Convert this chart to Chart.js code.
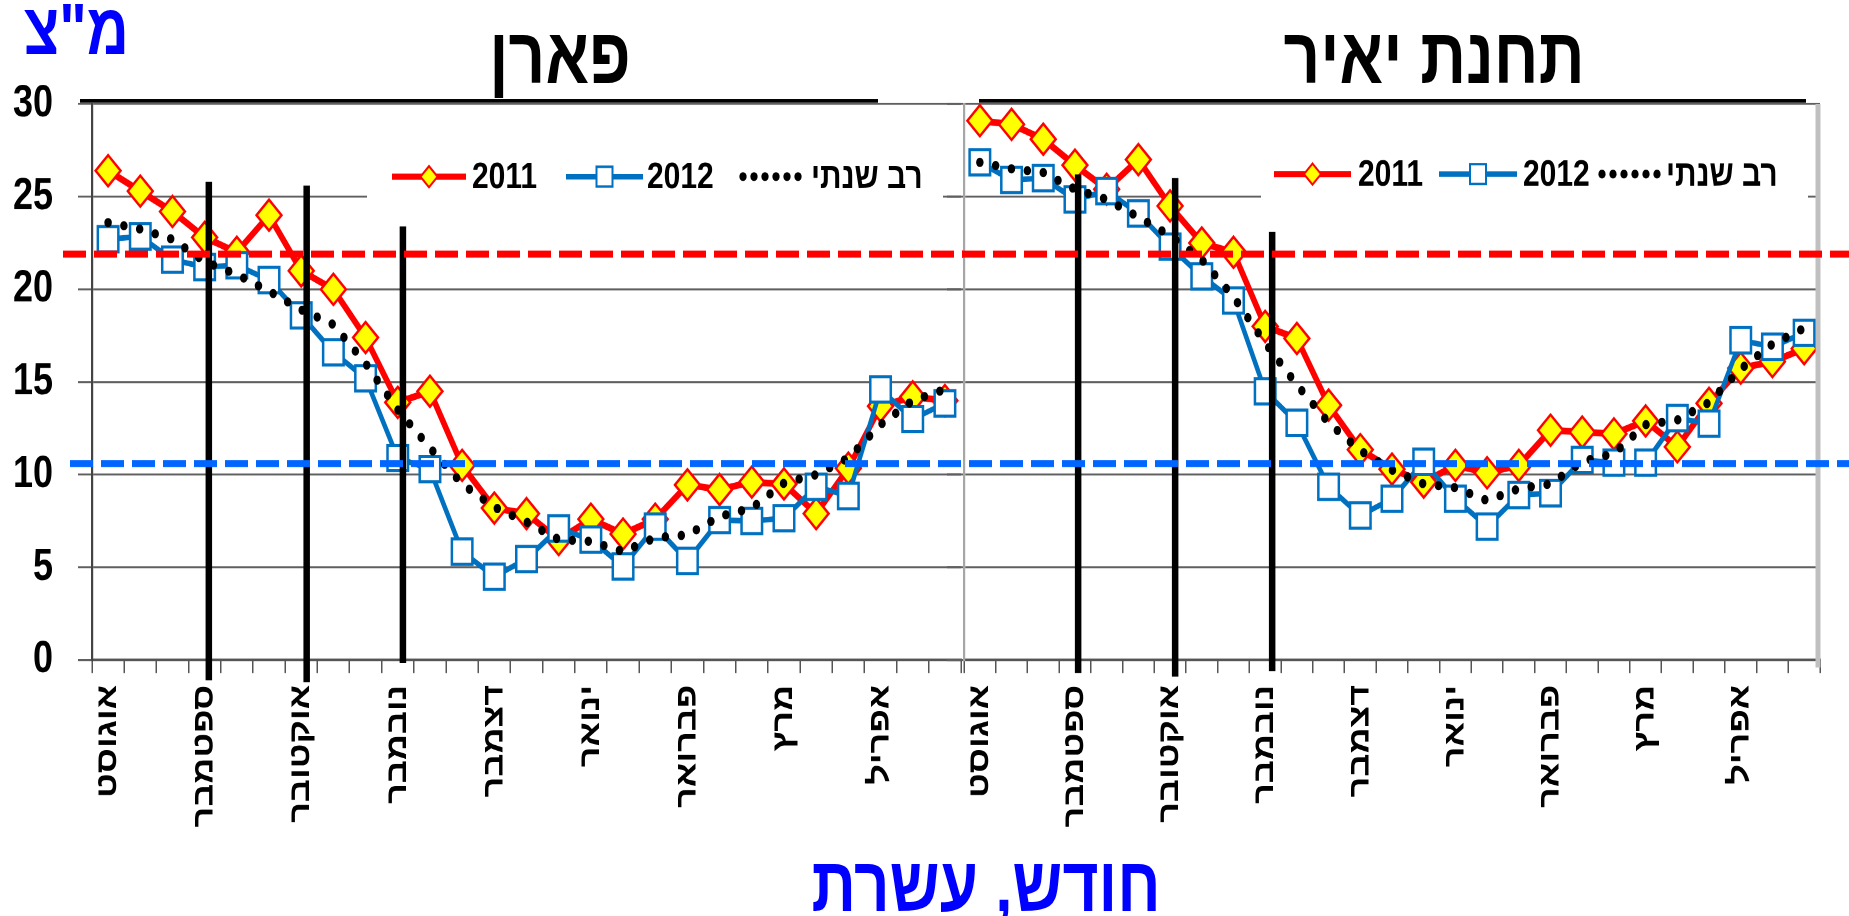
<!DOCTYPE html>
<html lang="he">
<head>
<meta charset="utf-8">
<script src="https://cdn.jsdelivr.net/npm/chart.js@4.4.1/dist/chart.umd.min.js"></script>
<style>
  html, body { margin: 0; padding: 0; background: #fff; overflow: hidden; }
  /* the reference is a vertically stretched picture, so the whole page is drawn 740px high and stretched */
  #page { position: absolute; left: 0; top: 0; width: 1849px; height: 740px;
          transform: scaleY(1.23784); transform-origin: 0 0;
          font-family: "Liberation Sans", Arial, "DejaVu Sans", sans-serif; }
  #page canvas { position: absolute; top: 0; }
  .lbl { position: absolute; font-weight: bold; line-height: 1; white-space: nowrap; }
  .blue { color: #0000ff; }
  .rule { position: absolute; top: 80px; height: 3.2px; background: #000; }
</style>
</head>
<body>
<div id="page">
  <div class="lbl blue" dir="rtl" style="left:24px;top:-4.7px;font-size:58px">מ"צ</div>
  <div class="lbl" dir="rtl" style="left:360px;width:400px;text-align:center;top:12.8px;font-size:64px">פארן</div>
  <div class="lbl" dir="rtl" style="left:1234px;width:400px;text-align:center;top:12.8px;font-size:64px">תחנת יאיר</div>
  <div class="rule" style="left:80px;width:798px"></div>
  <div class="rule" style="left:979px;width:827px"></div>
  <canvas id="paranChart" width="963" height="740" style="left:0"></canvas>
  <canvas id="yairChart" width="909" height="740" style="left:940px"></canvas>
  <div class="lbl blue" dir="rtl" style="left:686px;width:600px;text-align:center;top:683.5px;font-size:62px">חודש, עשרת</div>
</div>
<script>
// dekads (10-day periods), August - April
const months = ["אוגוסט", "ספטמבר", "אוקטובר", "נובמבר", "דצמבר", "ינואר", "פברואר", "מרץ", "אפריל"];
const dekadLabels = months.flatMap(m => [m, "", ""]);
const seriesNames = ["2011", "2012", "רב שנתי"];
const yTicks = [0, 5, 10, 15, 20, 25, 30];

// Paran
const paran2011 = [26.4, 25.3, 24.2, 22.8, 22.0, 24.0, 21.0, 20.0, 17.4, 13.9, 14.5, 10.5, 8.2, 7.9,
                   6.5, 7.6, 6.8, 7.6, 9.45, 9.2, 9.6, 9.5, 7.9, 10.35, 13.7, 14.2, 14.0];
const paran2012 = [22.7, 22.85, 21.6, 21.2, 21.3, 20.5, 18.6, 16.6, 15.2, 10.9, 10.3, 5.85, 4.5, 5.45,
                   7.1, 6.5, 5.05, 7.2, 5.35, 7.55, 7.5, 7.65, 9.35, 8.85, 14.6, 13.0, 13.85];
const paranAvg  = [23.6, 23.25, 22.7, 21.5, 20.8, 19.9, 18.9, 18.1, 16.0, 13.5, 11.45, 9.5, 8.25, 7.45,
                   6.5, 6.4, 5.85, 6.6, 6.75, 7.75, 8.2, 9.55, 10.0, 10.9, 12.7, 14.0, 14.6];
// Yair station
const yair2011 = [29.1, 28.9, 28.1, 26.7, 25.4, 27.0, 24.5, 22.5, 22.0, 18.0, 17.35, 13.75, 11.35, 10.3,
                  9.6, 10.5, 10.1, 10.5, 12.4, 12.3, 12.2, 12.9, 11.5, 13.85, 15.75, 16.1, 16.8];
const yair2012 = [26.85, 25.9, 26.0, 24.85, 25.3, 24.1, 22.3, 20.7, 19.4, 14.5, 12.8, 9.35, 7.8, 8.7,
                  10.7, 8.7, 7.2, 8.9, 9.0, 10.8, 10.65, 10.65, 13.05, 12.75, 17.25, 16.9, 17.65];
const yairAvg  = [26.85, 26.5, 26.3, 25.4, 24.85, 23.9, 22.9, 21.6, 19.6, 17.1, 14.85, 12.8, 11.3, 10.25,
                  9.5, 9.3, 8.6, 9.25, 9.5, 10.7, 11.15, 12.7, 12.95, 13.9, 15.7, 17.05, 17.9];

// horizontal reference levels (red, blue)
const limitValues = [21.9, 10.6];

// black vertical markers: dekad index, top and bottom value
const paranMarkIdx = [3.13, 6.17, 9.16];
const paranMarkTop = [25.8, 25.6, 23.4];
const paranMarkBottom = [-1.1, -1.2, -0.15];
const yairMarkIdx = [3.1, 6.16, 9.22];
const yairMarkTop = [26.2, 26.0, 23.1];
const yairMarkBottom = [-0.7, -0.9, -0.6];

const FONT = '"Liberation Sans", Arial, "DejaVu Sans", sans-serif';

function diamondPath(ctx, x, y, r) {
  ctx.beginPath();
  ctx.moveTo(x - r, y); ctx.lineTo(x, y - r); ctx.lineTo(x + r, y); ctx.lineTo(x, y + r);
  ctx.closePath();
}

const panelDecor = {
  id: 'panelDecor',
  beforeDatasetsDraw(chart, args, o) {
    const ctx = chart.ctx, L = o.legend, y = L.y;
    ctx.save();
    ctx.fillStyle = '#fff';
    ctx.fillRect(L.boxLeft, y - 22, L.boxRight - L.boxLeft, 44);
    ctx.font = 'bold 30px ' + FONT;
    ctx.textBaseline = 'middle';
    ctx.textAlign = 'left';
    ctx.lineCap = 'butt';
    // 2011
    ctx.strokeStyle = '#ff0000'; ctx.lineWidth = 5;
    ctx.beginPath(); ctx.moveTo(L.red[0], y); ctx.lineTo(L.red[1], y); ctx.stroke();
    diamondPath(ctx, (L.red[0] + L.red[1]) / 2, y, 8.5);
    ctx.fillStyle = '#ffff00'; ctx.fill(); ctx.lineWidth = 1.8; ctx.stroke();
    ctx.fillStyle = '#000'; ctx.fillText(seriesNames[0], L.text[0], y + 1);
    // 2012
    ctx.strokeStyle = '#0070c0'; ctx.lineWidth = 4.5;
    ctx.beginPath(); ctx.moveTo(L.blue[0], y); ctx.lineTo(L.blue[1], y); ctx.stroke();
    const bx = (L.blue[0] + L.blue[1]) / 2;
    ctx.fillStyle = '#fff'; ctx.fillRect(bx - 8, y - 8, 16, 16);
    ctx.lineWidth = 2; ctx.strokeRect(bx - 8, y - 8, 16, 16);
    ctx.fillStyle = '#000'; ctx.fillText(seriesNames[1], L.text[1], y + 1);
    // multi-year average
    for (let i = 0; i < 6; i++) {
      ctx.beginPath(); ctx.arc(L.dots[0] + i * 11, y, 3.6, 0, Math.PI * 2); ctx.fill();
    }
    ctx.fillText(seriesNames[2], L.text[2], y + 1);
    ctx.restore();
  },
  afterDatasetsDraw(chart, args, o) {
    const ctx = chart.ctx, xs = chart.scales.x, ys = chart.scales.y, area = chart.chartArea;
    ctx.save();
    if (o.rightBorder) {
      ctx.strokeStyle = '#c0c0c0'; ctx.lineWidth = 5;
      ctx.beginPath(); ctx.moveTo(area.right - 2, area.top); ctx.lineTo(area.right - 2, area.bottom + 6); ctx.stroke();
    }
    ctx.strokeStyle = '#000'; ctx.lineWidth = 6.5;
    ctx.beginPath();
    o.markIdx.forEach((m, i) => {
      const x = xs.getPixelForValue(m);
      ctx.moveTo(x, ys.getPixelForValue(o.markTop[i]));
      ctx.lineTo(x, ys.getPixelForValue(o.markBottom[i]));
    });
    ctx.stroke();
    const colors = ['#ff0000', '#0066ff'];
    const starts = [63, 70];
    limitValues.forEach((v, i) => {
      const y = ys.getPixelForValue(v);
      const x0 = Math.max(0, starts[i] - o.pageLeft, o.dashFrom || 0);
      ctx.setLineDash([23, 8]);
      ctx.lineDashOffset = o.pageLeft + x0 - starts[i];
      ctx.strokeStyle = colors[i]; ctx.lineWidth = 5.7;
      ctx.beginPath(); ctx.moveTo(x0, y); ctx.lineTo(chart.width, y); ctx.stroke();
    });
    ctx.restore();
  }
};

function makePanel(id, s2011, s2012, sAvg, p) {
  return new Chart(document.getElementById(id), {
    type: 'line',
    data: {
      labels: dekadLabels,
      datasets: [
        { label: seriesNames[0], data: s2011, order: 3, borderColor: '#ff0000', borderWidth: 5.5,
          borderJoinStyle: 'round', pointStyle: 'rectRot', pointRadius: 12.5,
          pointBackgroundColor: '#ffff00', pointBorderColor: '#ff0000', pointBorderWidth: 2.2 },
        { label: seriesNames[1], data: s2012, order: 2, borderColor: '#0070c0', borderWidth: 4.5,
          borderJoinStyle: 'round', pointStyle: 'rect', pointRadius: 14.5,
          pointBackgroundColor: '#ffffff', pointBorderColor: '#0070c0', pointBorderWidth: 2.5 },
        { label: seriesNames[2], data: sAvg, order: 1, borderColor: '#000', borderWidth: 7.5,
          borderDash: [0, 16], borderCapStyle: 'round', pointRadius: 0 }
      ]
    },
    options: {
      responsive: false,
      animation: false,
      devicePixelRatio: 2,
      layout: { autoPadding: false, padding: { top: 84, right: p.padRight, left: 0, bottom: 0 } },
      plugins: {
        legend: { display: false },
        tooltip: { enabled: false },
        panelDecor: p.decor
      },
      scales: {
        x: {
          offset: true,
          afterFit: s => { s.height = 206.8; s.paddingLeft = 0; s.paddingRight = 0; },
          grid: { offset: true, drawOnChartArea: false, drawTicks: true, tickLength: 10.5, color: '#555', lineWidth: 1.5 },
          border: { color: '#555', width: 2 },
          ticks: { autoSkip: false, minRotation: 90, maxRotation: 90, padding: 9.5, color: '#000',
                   font: { family: FONT, size: 29, weight: 'bold' } }
        },
        y: {
          min: 0, max: 30,
          afterFit: s => { s.width = p.yWidth; s.paddingTop = 0; s.paddingBottom = 0; },
          afterBuildTicks: s => { s.ticks = yTicks.map(v => ({ value: v })); },
          grid: { color: '#5f5f5f', lineWidth: 1.6, drawTicks: true, tickLength: p.tickLen },
          border: { color: p.axisColor, width: 2.2 },
          ticks: { display: p.showLabels, padding: 25, color: '#000',
                   font: { family: FONT, size: 36, weight: 'bold' } }
        }
      }
    },
    plugins: [panelDecor]
  });
}

makePanel('paranChart', paran2011, paran2012, paranAvg, {
  padRight: 2, yWidth: 92, tickLen: 14, axisColor: '#444', showLabels: true,
  decor: {
    pageLeft: 0, rightBorder: false,
    markIdx: paranMarkIdx, markTop: paranMarkTop, markBottom: paranMarkBottom,
    legend: { y: 142.7, boxLeft: 367, boxRight: 943, red: [392, 466], blue: [566, 643], dots: [743],
              text: [472, 647, 811] }
  }
});

makePanel('yairChart', yair2011, yair2012, yairAvg, {
  padRight: 29, yWidth: 24, tickLen: 17, axisColor: '#a6a6a6', showLabels: false,
  decor: {
    pageLeft: 940, rightBorder: true, dashFrom: 22,
    markIdx: yairMarkIdx, markTop: yairMarkTop, markBottom: yairMarkBottom,
    legend: { y: 140.6, boxLeft: 321, boxRight: 868, red: [334, 411], blue: [499, 577], dots: [662],
              text: [418, 583, 726] }
  }
});
</script>
</body>
</html>
